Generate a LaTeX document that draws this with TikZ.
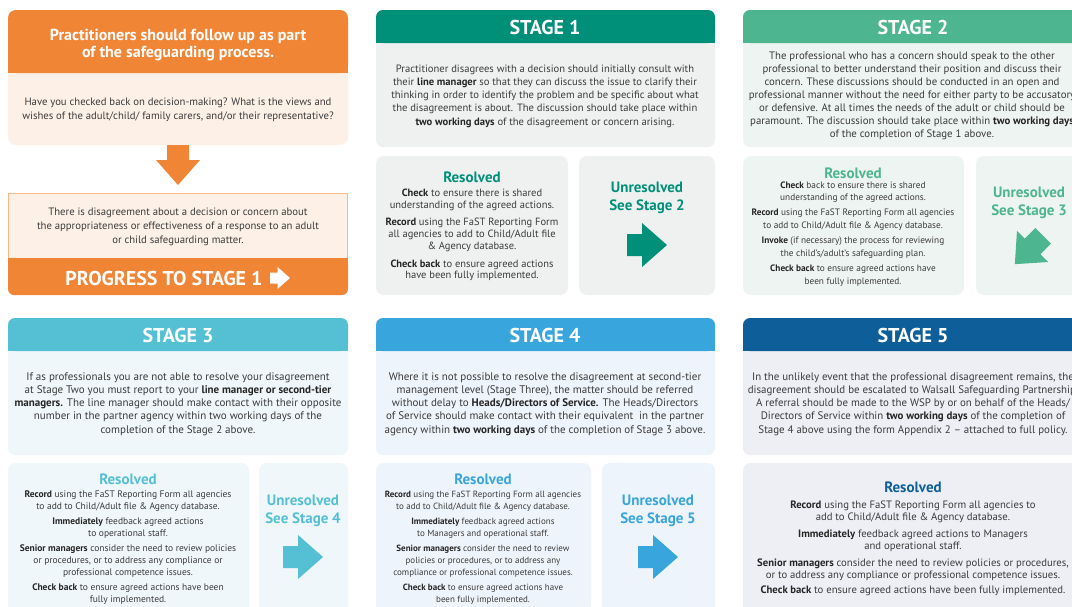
\documentclass[tikz,border=0pt]{standalone}
\usepackage{fontspec}
\setmainfont{PT Sans}
\definecolor{orng}{HTML}{F08536}
\definecolor{peach}{HTML}{FDF1E7}
\definecolor{orline}{HTML}{F6B98C}
\definecolor{sA}{HTML}{00907A}
\definecolor{bA}{HTML}{EEF1F0}
\definecolor{sB}{HTML}{4DB58F}
\definecolor{bB}{HTML}{EEF4F1}
\definecolor{sC}{HTML}{55C0D3}
\definecolor{bC}{HTML}{EFF7FA}
\definecolor{sD}{HTML}{38A5DD}
\definecolor{bD}{HTML}{EEF4FB}
\definecolor{sE}{HTML}{0E5F99}
\definecolor{bE}{HTML}{EDEFF5}
\definecolor{txt}{HTML}{3B3B3B}
\newcommand\myfs[2]{\fontsize{#1}{#2}\selectfont}
\newcommand\bk[1]{\textbf{\color{black!85}#1}}
\newcommand\panel[7]{%
  \fill[#7, rounded corners=7] (#1,#2) rectangle (#3,#5);
  \fill[#6, rounded corners=7] (#1,#2) rectangle (#3,#4);
  \fill[#6] (#1,#2+10) rectangle (#3,#4);}
\newcommand\softbox[5]{\fill[#5, rounded corners=8] (#1,#2) rectangle (#3,#4);}
\tikzset{
  fatarrow/.pic={\path[pic actions] (-20,-11) -- (-5,-11) -- (-5,-22) -- (20,0) -- (-5,22) -- (-5,11) -- (-20,11) -- cycle;},
  txtnode/.style={align=center, inner sep=0pt, text=txt},
  hdr/.style={inner sep=0pt, text=white, font=\bfseries\myfs{20}{22}},
  restitle/.style={inner sep=0pt, font=\bfseries\myfs{15}{17}},
  unres/.style={align=center, inner sep=0pt, font=\bfseries\myfs{15}{17.5}},
}
\begin{document}
\begin{tikzpicture}[x=1pt,y=-1pt]
\clip (0,0) rectangle (1072,606);
\fill[white] (0,0) rectangle (1072,606);

% ---------- intro (orange) ----------
\fill[peach, rounded corners=8] (8,10) rectangle (348,145);
\fill[orng, rounded corners=8] (8,10) rectangle (348,73);
\fill[orng] (8,30) rectangle (348,73);
\node[align=center, inner sep=0pt, text=white, font=\bfseries\myfs{16}{17}] (intro) at (178,45)
  {Practitioners should follow up as part\\of the safeguarding process.};
\node[txtnode, font=\myfs{10.7}{14}] (check) at (178,110)
  {Have you checked back on decision-making? What is the views and\\wishes of the adult/child/ family carers, and/or their representative?};
\pic[rotate=-90, fill=orng] (down) at (178,165) {fatarrow};

\draw[orline, fill=peach] (8.5,193.5) rectangle (347.5,260);
\fill[orng, rounded corners=6] (8,258) rectangle (348,295);
\fill[orng] (8,258) rectangle (348,270);
\node[txtnode, font=\myfs{10.7}{14}] (disagree) at (178,227)
  {There is disagreement about a decision or concern about\\the appropriateness or effectiveness of a response to an adult\\or child safeguarding matter.};
\node[hdr] (progress) at (164,278.5) {PROGRESS TO STAGE 1};
\pic[scale=0.5, fill=white] (parr) at (280,278) {fatarrow};

% ---------- STAGE 1 ----------
\panel{376}{10}{715}{43}{147}{sA}{bA}
\node[hdr] (s1) at (545,27) {STAGE 1};
\node[txtnode, font=\myfs{10.6}{13.3}] (s1body) at (545,96)
  {Practitioner disagrees with a decision should initially consult with\\their \bk{line manager} so that they can discuss the issue to clarify their\\thinking in order to identify the problem and be specific about what\\the disagreement is about. The discussion should take place within\\\bk{two working days} of the disagreement or concern arising.};
\softbox{376}{156}{568}{295}{bA}
\softbox{579}{156}{715}{295}{bA}
\node[restitle, text=sA] (s1res) at (472,177) {Resolved};
\node[txtnode, font=\myfs{10.5}{11.7}] (s1rbody) at (472,235)
  {\bk{Check} to ensure there is shared\\understanding of the agreed actions.\\[6pt]\bk{Record} using the FaST Reporting Form\\all agencies to add to Child/Adult file\\\& Agency database.\\[6pt]\bk{Check back} to ensure agreed actions\\have been fully implemented.};
\node[unres, text=sA] (s1un) at (647,198) {Unresolved\\See Stage 2};
\pic[fill=sA] (a1) at (647,245) {fatarrow};

% ---------- STAGE 2 ----------
\panel{743}{10}{1083}{43}{147}{sB}{bB}
\node[hdr] (s2) at (913,27) {STAGE 2};
\node[txtnode, font=\myfs{10.8}{13}] (s2body) at (912,96)
  {The professional who has a concern should speak to the other\\professional to better understand their position and discuss their\\concern. These discussions should be conducted in an open and\\professional manner without the need for either party to be accusatory\\or defensive. At all times the needs of the adult or child should be\\paramount. The discussion should take place within \bk{two working days}\\of the completion of Stage 1 above.};
\softbox{743}{156}{964}{295}{bB}
\softbox{976}{156}{1090}{295}{bB}
\node[restitle, text=sB] (s2res) at (853,173) {Resolved};
\node[txtnode, font=\myfs{9.3}{12.8}] (s2rbody) at (853,234)
  {\bk{Check} back to ensure there is shared\\understanding of the agreed actions.\\[2pt]\bk{Record} using the FaST Reporting Form all agencies\\to add to Child/Adult file \& Agency database.\\[2pt]\bk{Invoke} (if necessary) the process for reviewing\\the child’s/adult’s safeguarding plan.\\[3pt]\bk{Check back} to ensure agreed actions have\\been fully implemented.};
\node[unres, text=sB] (s2un) at (1029,203) {Unresolved\\See Stage 3};
\pic[rotate=225, fill=sB] (a2) at (1029,250) {fatarrow};

% ---------- STAGE 3 ----------
\panel{8}{318}{348}{351}{455}{sC}{bC}
\node[hdr] (s3) at (178,335) {STAGE 3};
\node[txtnode, font=\myfs{11}{13.2}] (s3body) at (178,404)
  {If as professionals you are not able to resolve your disagreement\\at Stage Two you must report to your \bk{line manager or second-tier}\\\bk{managers.} The line manager should make contact with their opposite\\number in the partner agency within two working days of the\\completion of the Stage 2 above.};
\softbox{8}{463}{249}{640}{bC}
\softbox{259}{463}{348}{640}{bC}
\node[restitle, text=sC] (s3res) at (128,479) {Resolved};
\node[txtnode, font=\myfs{9.5}{12}] (s3rbody) at (128,548)
  {\bk{Record} using the FaST Reporting Form all agencies\\to add to Child/Adult file \& Agency database.\\[3pt]\bk{Immediately} feedback agreed actions\\to operational staff.\\[3pt]\bk{Senior managers} consider the need to review policies\\or procedures, or to address any compliance or\\professional competence issues.\\[3pt]\bk{Check back} to ensure agreed actions have been\\fully implemented.};
\node[unres, text=sC] (s3un) at (303,511) {Unresolved\\See Stage 4};
\pic[fill=sC] (a3) at (303,557) {fatarrow};

% ---------- STAGE 4 ----------
\panel{376}{318}{715}{351}{455}{sD}{bD}
\node[hdr] (s4) at (545,335) {STAGE 4};
\node[txtnode, font=\myfs{11}{13.2}] (s4body) at (545,404)
  {Where it is not possible to resolve the disagreement at second-tier\\management level (Stage Three), the matter should be referred\\without delay to \bk{Heads/Directors of Service.} The Heads/Directors\\of Service should make contact with their equivalent\ \ in the partner\\agency within \bk{two working days} of the completion of Stage 3 above.};
\softbox{376}{463}{591}{640}{bD}
\softbox{602}{463}{715}{640}{bD}
\node[restitle, text=sD] (s4res) at (483,479) {Resolved};
\node[txtnode, font=\myfs{9}{12}] (s4rbody) at (483,548)
  {\bk{Record} using the FaST Reporting Form all agencies\\to add to Child/Adult file \& Agency database.\\[3pt]\bk{Immediately} feedback agreed actions\\to Managers and operational staff.\\[3pt]\bk{Senior managers} consider the need to review\\policies or procedures, or to address any\\compliance or professional competence issues.\\[3pt]\bk{Check back} to ensure agreed actions have\\been fully implemented.};
\node[unres, text=sD] (s4un) at (658,511) {Unresolved\\See Stage 5};
\pic[fill=sD] (a4) at (658,557) {fatarrow};

% ---------- STAGE 5 ----------
\panel{743}{318}{1083}{351}{455}{sE}{bE}
\node[hdr] (s5) at (913,335) {STAGE 5};
\node[txtnode, font=\myfs{10.9}{13.2}] (s5body) at (913,404)
  {In the unlikely event that the professional disagreement remains, the\\disagreement should be escalated to Walsall Safeguarding Partnership.\\A referral should be made to the WSP by or on behalf of the Heads/\\Directors of Service within \bk{two working days} of the completion of\\Stage 4 above using the form Appendix 2 -- attached to full policy.};
\softbox{743}{463}{1090}{640}{bE}
\node[restitle, text=sE] (s5res) at (913,487) {Resolved};
\node[txtnode, font=\myfs{10.7}{12.5}] (s5rbody) at (913,548)
  {\bk{Record} using the FaST Reporting Form all agencies to\\add to Child/Adult file \& Agency database.\\[4pt]\bk{Immediately} feedback agreed actions to Managers\\and operational staff.\\[4pt]\bk{Senior managers} consider the need to review policies or procedures,\\or to address any compliance or professional competence issues.\\[2pt]\bk{Check back} to ensure agreed actions have been fully implemented.};
\end{tikzpicture}
\end{document}
